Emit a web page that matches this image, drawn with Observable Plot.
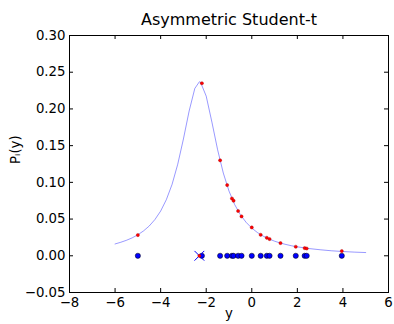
<!DOCTYPE html>
<html>
<head>
<meta charset="utf-8">
<script src="https://cdn.jsdelivr.net/npm/d3@7"></script>
<script src="https://cdn.jsdelivr.net/npm/@observablehq/plot@0.6"></script>
<style>
  html, body { margin: 0; padding: 0; background: white; }
</style>
</head>
<body>
<div id="chart"></div>
<script>
const title = "Asymmetric Student-t";
const xLabel = "y";
const yLabel = "Pᵢ(y)";
const xTicks = [-8, -6, -4, -2, 0, 2, 4, 6];
const yTicks = [-0.05, 0, 0.05, 0.10, 0.15, 0.20, 0.25, 0.30];

// fitted density curve
const curveX = [-6, -5.75, -5.5, -5.25, -5, -4.75, -4.5, -4.25, -4, -3.75, -3.5, -3.25, -3, -2.75, -2.5, -2.3, -2.25, -2, -1.75, -1.5, -1.25, -1, -0.75, -0.5, -0.25, 0, 0.25, 0.5, 0.75, 1, 1.25, 1.5, 1.75, 2, 2.5, 3, 3.5, 4, 4.5, 5];
const curveY = [0.0161, 0.0184, 0.0211, 0.0244, 0.0286, 0.0339, 0.0406, 0.0494, 0.0609, 0.0764, 0.0971, 0.1246, 0.1591, 0.1971, 0.2279, 0.2370, 0.2364, 0.2174, 0.1820, 0.1445, 0.1127, 0.0881, 0.0697, 0.0559, 0.0456, 0.0377, 0.0316, 0.0268, 0.0230, 0.0199, 0.0174, 0.0154, 0.0136, 0.0122, 0.0099, 0.0082, 0.0068, 0.0058, 0.0050, 0.0044];

// observations and density at observations
const obsX = [-5.0, -2.19, -1.39, -1.08, -0.87, -0.8, -0.6, -0.45, 0.0, 0.39, 0.66, 0.78, 1.26, 1.93, 2.32, 2.41, 3.95];
const densY = [0.0282, 0.235, 0.130, 0.0963, 0.078, 0.075, 0.061, 0.0536, 0.0386, 0.0286, 0.0245, 0.0228, 0.0173, 0.0123, 0.0105, 0.0099, 0.0064];

// mode marker
const modeX = [-2.3];
const modeY = [0];

const W = 394, H = 324;
const mL = 69, mR = 6, mT = 35, mB = 32;
const fw = W - mL - mR, fh = H - mT - mB;

const curve = curveX.map((x, i) => ({x, y: curveY[i]}));
const obs = obsX.map(x => ({x, y: 0}));
const dens = obsX.map((x, i) => ({x, y: densY[i]}));
const mode = modeX.map((x, i) => ({x, y: modeY[i]}));

const chart = Plot.plot({
  width: W, height: H,
  marginLeft: mL, marginRight: mR, marginTop: mT, marginBottom: mB,
  x: {domain: [-8, 6]},
  y: {domain: [-0.05, 0.30]},
  style: {fontFamily: "DejaVu Sans", fontSize: "13.3px", background: "white", color: "black"},
  marks: [
    Plot.axisX(xTicks, {anchor: "bottom", tickSize: 0, tickPadding: 5, label: null, fontSize: 13.3, tickFormat: d3.format("d")}),
    Plot.axisY(yTicks, {anchor: "left", tickSize: 0, tickPadding: 4, label: null, fontSize: 13.3, tickFormat: d3.format(".2f")}),
    Plot.tickX(xTicks, {x: d => d, insetTop: fh - 4, stroke: "black"}),
    Plot.tickX(xTicks, {x: d => d, insetBottom: fh - 4, stroke: "black"}),
    Plot.tickY(yTicks, {y: d => d, insetRight: fw - 4, stroke: "black"}),
    Plot.tickY(yTicks, {y: d => d, insetLeft: fw - 4, stroke: "black"}),
    Plot.line(curve, {x: "x", y: "y", stroke: "#0000ff", strokeOpacity: 0.4, strokeWidth: 1}),
    Plot.dot(obs, {x: "x", y: "y", r: 2.6, fill: "#0000ff", stroke: "black", strokeWidth: 0.5}),
    Plot.dot(mode, {x: "x", y: "y", symbol: "times", r: 4.5, stroke: "#0000ff", strokeWidth: 1}),
    Plot.dot(mode, {x: "x", y: "y", r: 1.6, fill: "#ff0000", stroke: "#aa0000", strokeWidth: 0.4}),
    Plot.dot(dens, {x: "x", y: "y", r: 1.6, fill: "#ff0000", stroke: "#aa0000", strokeWidth: 0.4}),
    Plot.frame({stroke: "black"}),
    Plot.text([title], {frameAnchor: "top", dy: -22, fontSize: 16}),
    Plot.text([xLabel], {frameAnchor: "bottom", dy: 25, fontSize: 13.3}),
    Plot.text([yLabel], {frameAnchor: "left", dx: -54, rotate: -90, fontSize: 13.3})
  ]
});
document.getElementById("chart").appendChild(chart);
</script>
</body>
</html>
